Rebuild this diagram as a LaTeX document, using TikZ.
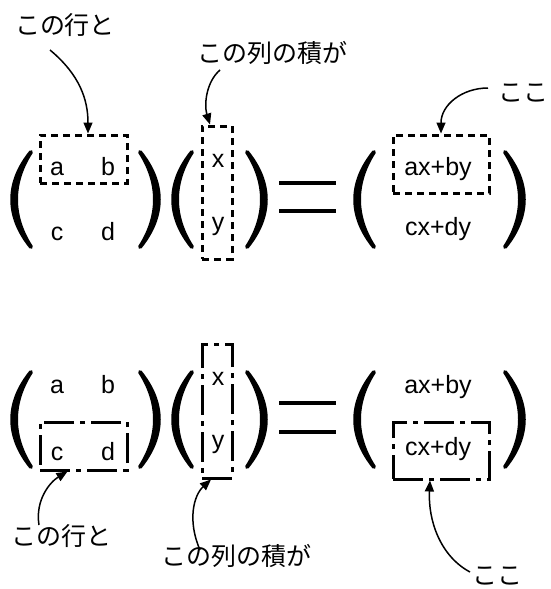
\documentclass[tikz,border=0pt]{standalone}
\usepackage{fontspec}
\setmainfont{Liberation Sans}
\newfontfamily\jpfont{Noto Sans CJK JP}
\usetikzlibrary{arrows.meta}
\begin{document}
\begin{tikzpicture}[x=1pt,y=-1pt,
  lt/.style={font=\fontsize{25}{30}\selectfont, anchor=base, inner sep=0pt},
  jp/.style={font=\jpfont\fontsize{25}{30}\selectfont, inner sep=0pt},
  eqbar/.style={line width=4pt},
  dbox/.style={draw, line width=3pt, dash pattern=on 7pt off 5pt, inner sep=0pt},
  ddbox/.style={draw, line width=3pt, dash pattern=on 30pt off 6pt on 5pt off 6pt, inner sep=0pt},
  arr/.style={line width=1.5pt, -{Triangle[length=11pt,width=9pt]}},
  lp/.pic={\filldraw[line width=4pt, line join=round]
     (0,0) .. controls (-25,31) and (-25,64) .. (0,95)
     .. controls (-20,64) and (-20,31) .. (0,0) -- cycle;}]
\useasboundingbox (0,0) rectangle (550,589);

% ---------- top row ----------
\pic at (31,152) {lp};
\pic[xscale=-1] at (140,152) {lp};
\pic at (192,152) {lp};
\pic[xscale=-1] at (247,152) {lp};
\pic at (374,152) {lp};
\pic[xscale=-1] at (505,152) {lp};
\draw[eqbar] (279,183) -- (336,183);
\draw[eqbar] (279,211) -- (336,211);

\node[lt] (a1) at (57,175) {a};
\node[lt] (b1) at (108,175) {b};
\node[lt] (c1) at (57,240) {c};
\node[lt] (d1) at (108,240) {d};
\node[lt] (x1) at (218,167) {x};
\node[lt] (y1) at (218,230) {y};
\node[lt] (r1) at (438,175) {ax+by};
\node[lt] (s1) at (438,235) {cx+dy};

\node[dbox, minimum width=87pt, minimum height=48pt] (box1) at (83.5,159) {};
\node[dbox, minimum width=30pt, minimum height=133pt] (box2) at (217,192.5) {};
\node[dbox, minimum width=96pt, minimum height=58pt] (box3) at (441,164) {};

\node[jp] (lab1) at (65,25) {この行と};
\node[jp] (lab2) at (272,53) {この列の積が};
\node[jp] (lab3) at (523,93) {ここ};

\coordinate (st1) at (50,50);
\coordinate (st2) at (220,70);
\coordinate (st3) at (488,88);
\draw[arr] (st1) .. controls (80,75) and (88,100) .. ([xshift=4.5pt]box1.north);
\draw[arr] (st2) .. controls (206,82) and (204,105) .. ([xshift=-7pt]box2.north);
\draw[arr] (st3) .. controls (462,88) and (441,105) .. (box3.north);

% ---------- bottom row ----------
\pic at (31,372) {lp};
\pic[xscale=-1] at (140,372) {lp};
\pic at (192,372) {lp};
\pic[xscale=-1] at (247,372) {lp};
\pic at (374,372) {lp};
\pic[xscale=-1] at (505,372) {lp};
\draw[eqbar] (279,403) -- (336,403);
\draw[eqbar] (279,432) -- (336,432);

\node[lt] (a2) at (57,393) {a};
\node[lt] (b2) at (108,393) {b};
\node[lt] (c2) at (57,460) {c};
\node[lt] (d2) at (108,460) {d};
\node[lt] (x2) at (218,385) {x};
\node[lt] (y2) at (218,448) {y};
\node[lt] (r2) at (438,393) {ax+by};
\node[lt] (s2) at (438,455) {cx+dy};

\node[ddbox, minimum width=87pt, minimum height=48pt] (box4) at (83.5,446) {};
\node[ddbox, minimum width=30pt, minimum height=134pt] (box5) at (217,411) {};
\node[ddbox, minimum width=96pt, minimum height=57pt] (box6) at (441,450.5) {};

\node[jp] (lab4) at (61,536) {この行と};
\node[jp] (lab5) at (236,556) {この列の積が};
\node[jp] (lab6) at (497,576) {ここ};

\coordinate (st4) at (39,525);
\coordinate (st5) at (200,550);
\coordinate (st6) at (470,572);
\draw[arr] (st4) .. controls (35,500) and (50,482) .. ([xshift=-16pt]box4.south);
\draw[arr] (st5) .. controls (187,520) and (194,495) .. ([xshift=-6pt]box5.south);
\draw[arr] (st6) .. controls (440,556) and (428,520) .. ([xshift=-11pt]box6.south);
\end{tikzpicture}
\end{document}
